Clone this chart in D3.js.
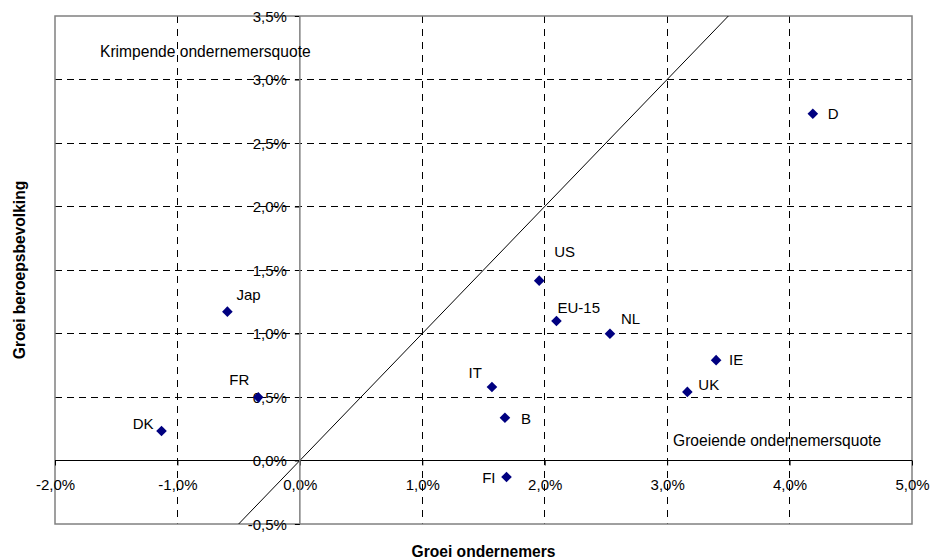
<!DOCTYPE html>
<html>
<head>
<meta charset="utf-8">
<script src="https://cdn.jsdelivr.net/npm/d3@7"></script>
<style>
  html, body { margin: 0; padding: 0; background: #fff; }
  svg { display: block; font-family: "Liberation Sans", Arial, sans-serif; }
</style>
</head>
<body>
<svg id="chart" width="931" height="558"></svg>
<script>
// ---- data ----
const countries = ["D", "US", "EU-15", "NL", "IT", "B", "FI", "UK", "IE", "Jap", "FR", "DK"];
const growthEntrepreneurs = [4.19, 1.955, 2.096, 2.533, 1.569, 1.675, 1.688, 3.165, 3.40, -0.592, -0.34, -1.13];
const growthLabourForce   = [2.73, 1.416, 1.098, 0.998, 0.579, 0.337, -0.13, 0.54, 0.79, 1.172, 0.498, 0.232];
const xTickValues = [-2, -1, 0, 1, 2, 3, 4, 5];
const xTickLabels = ["-2,0%", "-1,0%", "0,0%", "1,0%", "2,0%", "3,0%", "4,0%", "5,0%"];
const yTickValues = [-0.5, 0, 0.5, 1, 1.5, 2, 2.5, 3, 3.5];
const yTickLabels = ["-0,5%", "0,0%", "0,5%", "1,0%", "1,5%", "2,0%", "2,5%", "3,0%", "3,5%"];
const diagonalLine = [[-0.5, -0.5], [3.5, 3.5]];
const xTitle = "Groei ondernemers";
const yTitle = "Groei beroepsbevolking";
const cornerTopLeft = "Krimpende ondernemersquote";
const cornerBottomRight = "Groeiende ondernemersquote";

// ---- layout ----
const plot = { left: 55, right: 912, top: 16, bottom: 524 };
const x = d3.scaleLinear().domain([-2, 5]).range([plot.left, plot.right]);
const y = d3.scaleLinear().domain([-0.5, 3.5]).range([plot.bottom, plot.top]);

// label placement (anchor, dx, dy relative to marker)
const labelPlacement = {
  "D":     ["start", 15, 5.5],
  "US":    ["start", 15, -23.5],
  "EU-15": ["start", 1, -8.5],
  "NL":    ["start", 11, -9.5],
  "IT":    ["end", -10, -8.5],
  "B":     ["start", 16, 6.5],
  "FI":    ["end", -11, 5.5],
  "UK":    ["start", 11, -1.5],
  "IE":    ["start", 13, 5],
  "Jap":   ["start", 9, -11.5],
  "FR":    ["end", -9, -12.5],
  "DK":    ["end", -8, -2.5]
};

const svg = d3.select("#chart");
const fs = 15;

// gridlines
const g = svg.append("g");
g.selectAll("line.hgrid")
  .data(yTickValues.filter(v => v !== 0 && v !== -0.5 && v !== 3.5))
  .join("line")
  .attr("x1", plot.left).attr("x2", plot.right)
  .attr("y1", d => y(d)).attr("y2", d => y(d))
  .attr("stroke", "#000").attr("stroke-width", 1)
  .attr("stroke-dasharray", "7,5")
  .attr("shape-rendering", "crispEdges");
g.selectAll("line.vgrid")
  .data(xTickValues.filter(v => v !== 0 && v !== -2 && v !== 5))
  .join("line")
  .attr("x1", d => x(d)).attr("x2", d => x(d))
  .attr("y1", plot.top).attr("y2", plot.bottom)
  .attr("stroke", "#000").attr("stroke-width", 1)
  .attr("stroke-dasharray", "7,6")
  .attr("shape-rendering", "crispEdges");

// plot border
svg.append("rect")
  .attr("x", plot.left).attr("y", plot.top)
  .attr("width", plot.right - plot.left).attr("height", plot.bottom - plot.top)
  .attr("fill", "none").attr("stroke", "#808080").attr("stroke-width", 1.5);

// diagonal y = x
svg.append("path")
  .datum(diagonalLine)
  .attr("d", d3.line().x(d => x(d[0])).y(d => y(d[1])))
  .attr("stroke", "#000").attr("stroke-width", 1).attr("fill", "none");

// x axis at y=0
const xAxis = d3.axisBottom(x)
  .tickValues(xTickValues)
  .tickFormat((d, i) => xTickLabels[i])
  .tickSize(5).tickPadding(14);
const xg = svg.append("g").attr("transform", `translate(0,${y(0)})`).call(xAxis);
xg.select(".domain").remove();
xg.selectAll("line").attr("stroke", "#000");
xg.selectAll("text").attr("font-size", fs).attr("fill", "#000")
  .attr("font-family", "Liberation Sans, Arial, sans-serif");
svg.append("line")
  .attr("x1", plot.left).attr("x2", plot.right)
  .attr("y1", y(0)).attr("y2", y(0))
  .attr("stroke", "#000").attr("stroke-width", 1).attr("shape-rendering", "crispEdges");

// y axis at x=0
const yAxis = d3.axisLeft(y)
  .tickValues(yTickValues)
  .tickFormat((d, i) => yTickLabels[i])
  .tickSize(5).tickPadding(8);
const yg = svg.append("g").attr("transform", `translate(${x(0)},0)`).call(yAxis);
yg.select(".domain").remove();
yg.selectAll("line").attr("stroke", "#000");
yg.selectAll("text").attr("font-size", fs).attr("fill", "#000").attr("dy", "0.35em")
  .attr("font-family", "Liberation Sans, Arial, sans-serif");
svg.append("line")
  .attr("x1", x(0)).attr("x2", x(0))
  .attr("y1", plot.top).attr("y2", plot.bottom)
  .attr("stroke", "#808080").attr("stroke-width", 1.5);

// corner texts
svg.append("text")
  .attr("x", 100).attr("y", 57)
  .attr("font-size", 15.6).attr("fill", "#000")
  .text(cornerTopLeft);
svg.append("text")
  .attr("x", 673).attr("y", 446)
  .attr("font-size", 15.6).attr("fill", "#000")
  .text(cornerBottomRight);

// points
const pts = countries.map((c, i) => ({ c, vx: growthEntrepreneurs[i], vy: growthLabourForce[i] }));
svg.append("g").selectAll("path")
  .data(pts)
  .join("path")
  .attr("transform", d => `translate(${x(d.vx)},${y(d.vy)})`)
  .attr("d", "M0,-5.3L5.3,0L0,5.3L-5.3,0Z")
  .attr("fill", "#000080");

svg.append("g").selectAll("text")
  .data(pts)
  .join("text")
  .attr("x", d => x(d.vx) + labelPlacement[d.c][1])
  .attr("y", d => y(d.vy) + labelPlacement[d.c][2])
  .attr("text-anchor", d => labelPlacement[d.c][0])
  .attr("font-size", fs).attr("fill", "#000")
  .text(d => d.c);

// axis titles
svg.append("text")
  .attr("x", (plot.left + plot.right) / 2).attr("y", 556.5)
  .attr("text-anchor", "middle")
  .attr("font-size", 15.6).attr("font-weight", "bold")
  .text(xTitle);
svg.append("text")
  .attr("transform", `translate(25,${(plot.top + plot.bottom) / 2}) rotate(-90)`)
  .attr("text-anchor", "middle")
  .attr("font-size", 15.6).attr("font-weight", "bold")
  .text(yTitle);
</script>
</body>
</html>
